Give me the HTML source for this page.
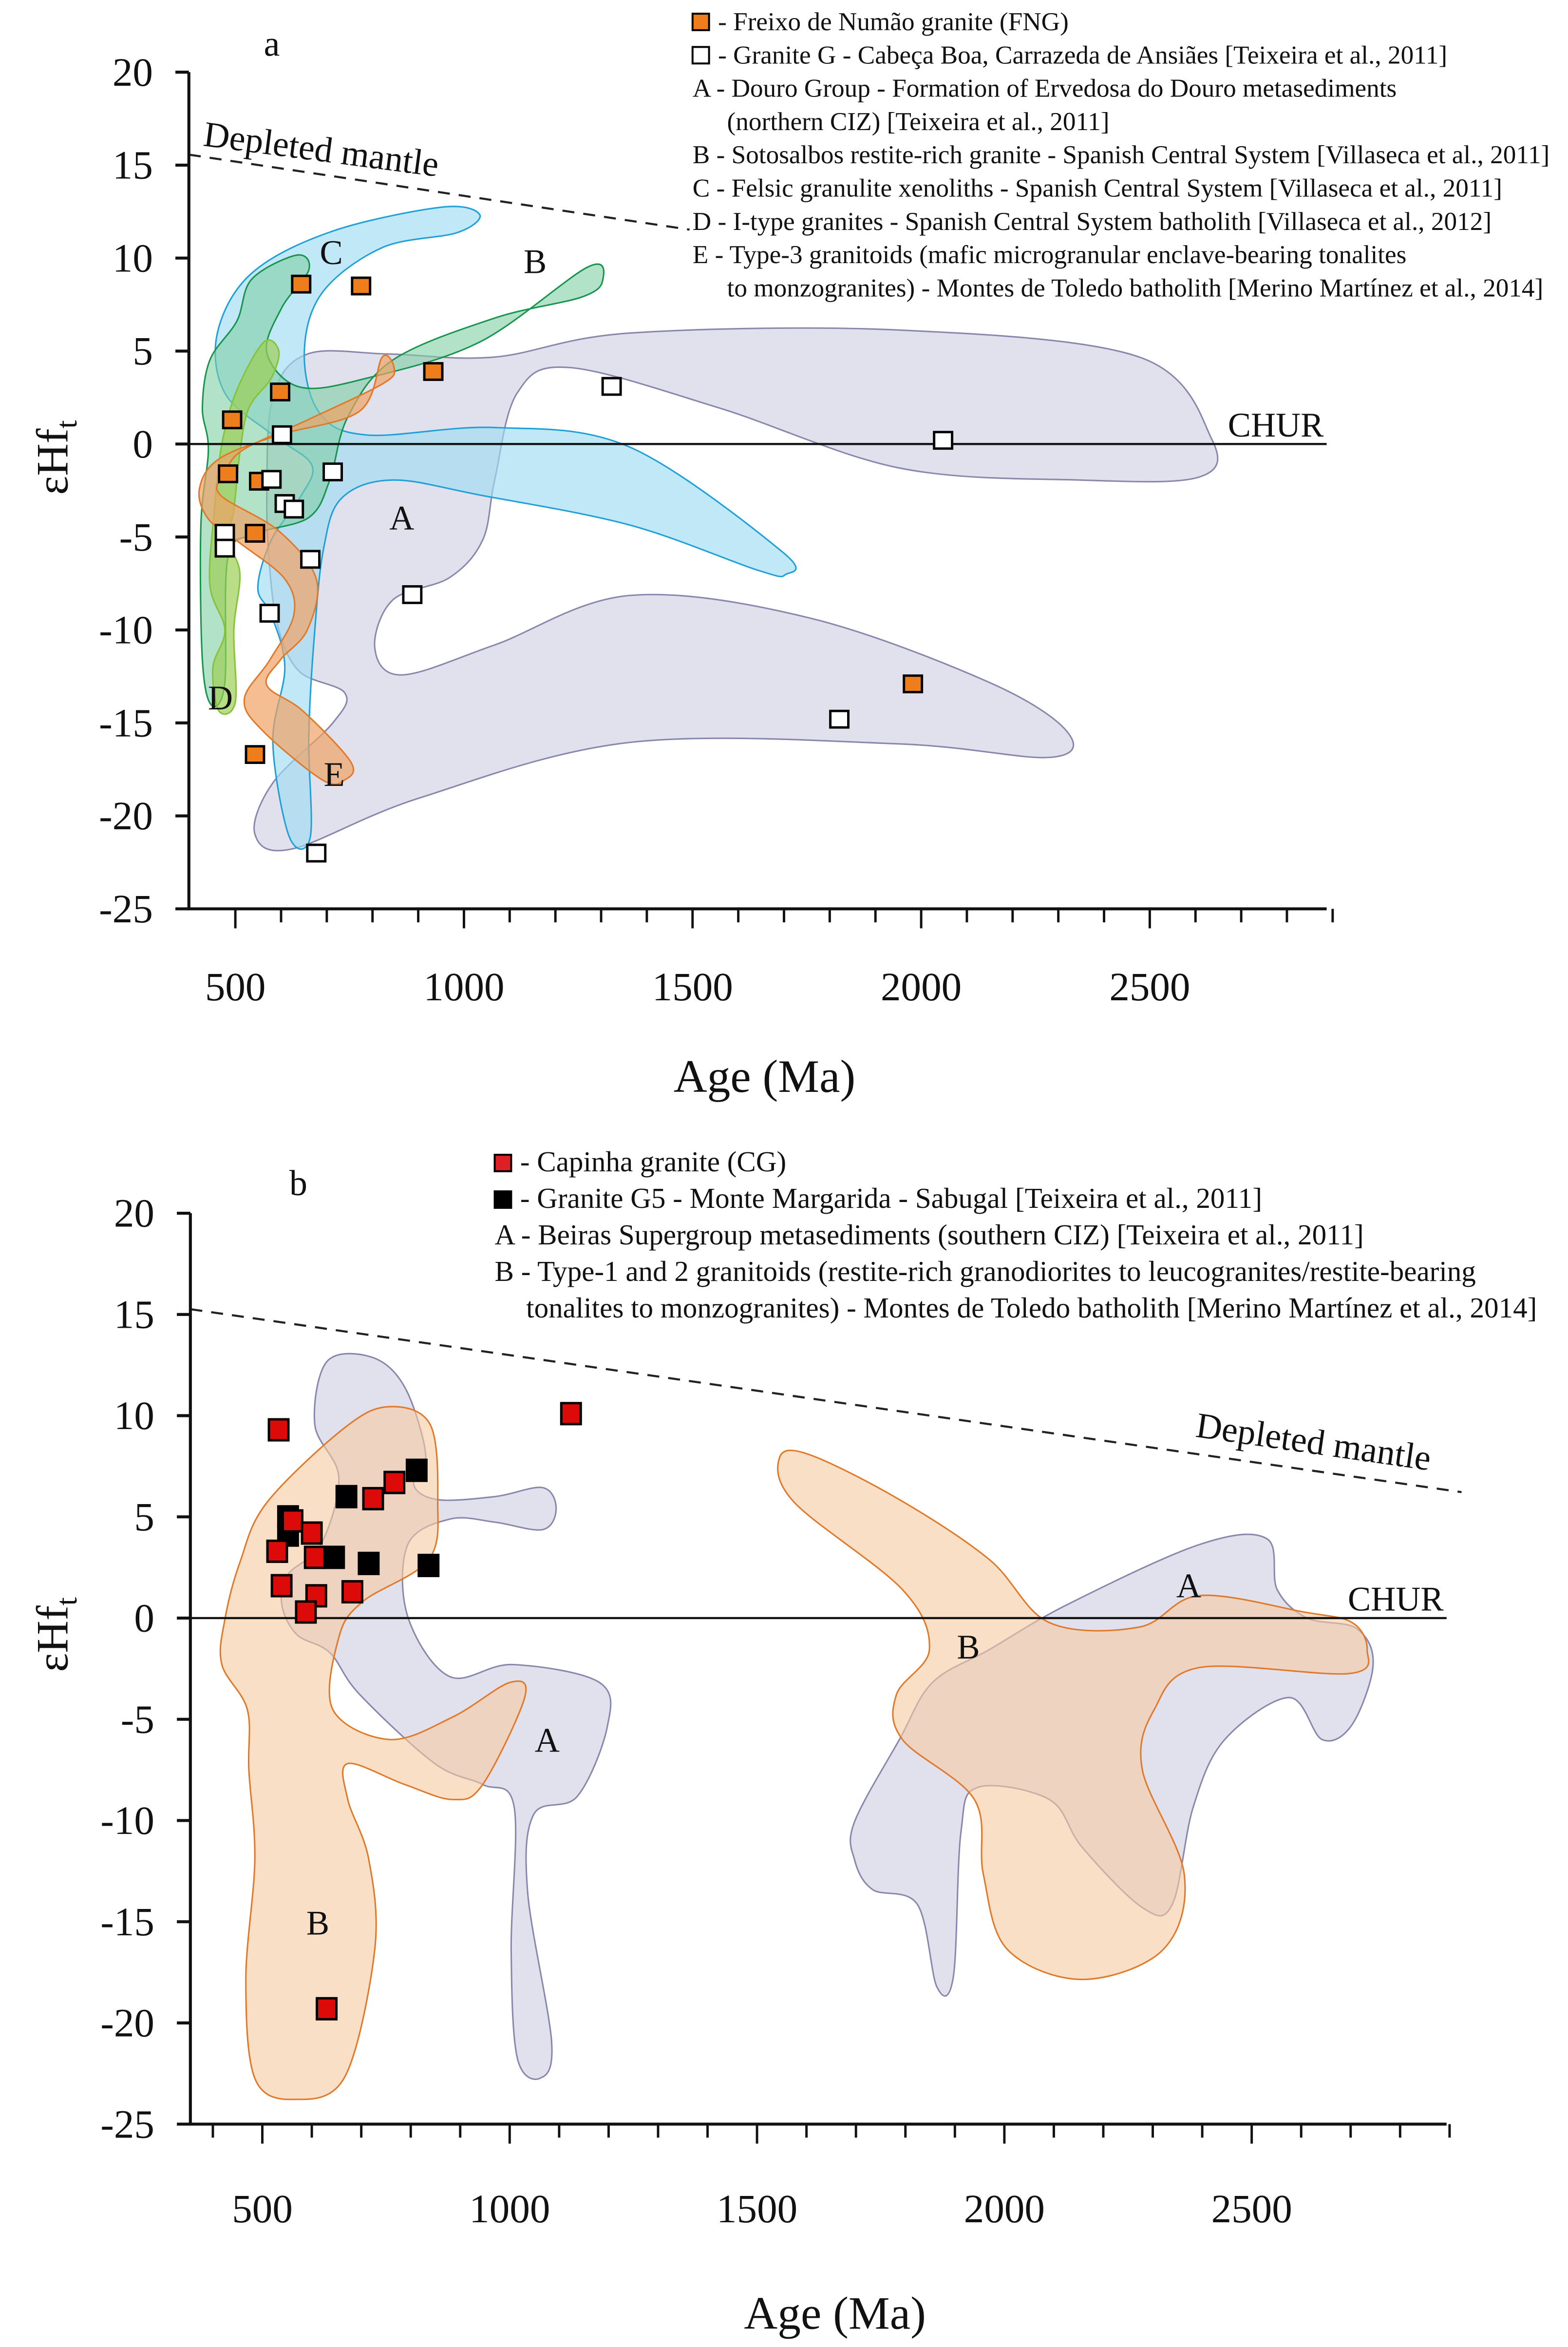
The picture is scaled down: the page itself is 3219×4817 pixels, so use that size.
<!DOCTYPE html>
<html><head><meta charset="utf-8"><style>
html,body{margin:0;padding:0;background:#fff}
svg{display:block}
text{font-family:"Liberation Serif",serif;fill:#111}
</style></head><body>
<svg id="fig" width="3219" height="4817" viewBox="0 0 1046 1565" xmlns="http://www.w3.org/2000/svg">
<g id="pa"></g>
<g id="pb"></g>
</svg>
<script>
// ===== data =====
const xTicksLabels = [500, 1000, 1500, 2000, 2500];
const yTicksLabels = [20, 15, 10, 5, 0, -5, -10, -15, -20, -25];
// panel a
const fngAge = [644, 775, 598, 493, 933, 484, 552, 543, 543, 1982];
const fngHf  = [8.6, 8.5, 2.8, 1.3, 3.9, -1.6, -2.0, -4.8, -16.7, -12.9];
const granGAge = [602, 579, 713, 608, 628, 477, 477, 664, 575, 887, 1323, 2048, 1821, 677];
const granGHf  = [0.5, -1.9, -1.5, -3.2, -3.5, -4.8, -5.6, -6.2, -9.1, -8.1, 3.1, 0.2, -14.8, -22.0];
// panel b
const cgAge = [533, 1124, 561, 600, 530, 606, 724, 767, 539, 609, 588, 682, 630];
const cgHf  = [9.3, 10.1, 4.8, 4.2, 3.3, 3.0, 5.9, 6.7, 1.6, 1.1, 0.3, 1.3, -19.3];
const g5Age = [812, 670, 552, 552, 645, 715, 836];
const g5Hf  = [7.3, 6.0, 5.0, 4.1, 3.0, 2.7, 2.6];

const NS = "http://www.w3.org/2000/svg";
function mk(parent, tag, attrs, txt){
  const e = document.createElementNS(NS, tag);
  for (const k in attrs) e.setAttribute(k, attrs[k]);
  if (txt !== undefined) e.textContent = txt;
  parent.appendChild(e); return e;
}
function smooth(pts){
  const n = pts.length; let d = "M" + pts[0][0] + "," + pts[0][1];
  for (let i = 0; i < n; i++){
    const p0 = pts[(i-1+n)%n], p1 = pts[i], p2 = pts[(i+1)%n], p3 = pts[(i+2)%n];
    const c1 = [p1[0]+(p2[0]-p0[0])/6, p1[1]+(p2[1]-p0[1])/6];
    const c2 = [p2[0]-(p3[0]-p1[0])/6, p2[1]-(p3[1]-p1[1])/6];
    d += "C"+c1[0].toFixed(1)+","+c1[1].toFixed(1)+" "+c2[0].toFixed(1)+","+c2[1].toFixed(1)+" "+p2[0]+","+p2[1];
  }
  return d + "Z";
}

function panel(g, cfg){
  const X = v => cfg.x0 + (v - 500) * cfg.kx;
  const Y = e => cfg.y0 - e * cfg.ky;
  cfg.regions.forEach(r => {
    const p = mk(g, "path", {d: smooth(r.pts), fill: r.fill, "fill-opacity": r.op, stroke: r.stroke, "stroke-width": 1});
    
    
  });
  const dm = mk(g, "line", {x1: cfg.dm[0], y1: cfg.dm[1], x2: cfg.dm[2], y2: cfg.dm[3], stroke: "#222", "stroke-width": 1.4, "stroke-dasharray": "8,6"});
  
  
  const dmt = mk(g, "text", {x: cfg.dmt[0], y: cfg.dmt[1], "font-size": 24, transform: "rotate(" + cfg.dmt[2] + " " + cfg.dmt[0] + " " + cfg.dmt[1] + ")"}, "Depleted mantle");
  
  
  const ch = mk(g, "line", {x1: cfg.ax, y1: Y(0), x2: cfg.axEnd, y2: Y(0), stroke: "#111", "stroke-width": 1.4});
  
  
  const cht = mk(g, "text", {x: cfg.axEnd - 2, y: Y(0) - 5, "font-size": 23, "text-anchor": "end"}, "CHUR");
  
  
  cfg.letters.forEach(l => {
    const t = mk(g, "text", {x: l[1], y: l[2], "font-size": 23, "text-anchor": "middle"}, l[0]);
    
    
  });
  const yax = mk(g, "line", {x1: cfg.ax, y1: Y(20), x2: cfg.ax, y2: Y(-25), stroke: "#111", "stroke-width": 2});
  
  
  const xax = mk(g, "line", {x1: cfg.ax - 1, y1: Y(-25), x2: cfg.axEnd, y2: Y(-25), stroke: "#111", "stroke-width": 2});
  
  
  yTicksLabels.forEach(v => {
    const t = mk(g, "line", {x1: cfg.ax - 9, y1: Y(v), x2: cfg.ax, y2: Y(v), stroke: "#111", "stroke-width": 2});
    
    
    const l = mk(g, "text", {x: cfg.ax - 24, y: Y(v) + 9, "font-size": 27, "text-anchor": "end"}, String(v));
    
    
  });
  for (let v = 400; v <= 2900; v += 100){
    if (X(v) < cfg.ax + 2) continue;
    const major = v % 500 === 0;
    const t = mk(g, "line", {x1: X(v), y1: Y(-25), x2: X(v), y2: Y(-25) + (major ? 13 : 9), stroke: "#111", "stroke-width": 1.6});
    
    
  }
  xTicksLabels.forEach(v => {
    const l = mk(g, "text", {x: X(v), y: cfg.xlY, "font-size": 27, "text-anchor": "middle"}, String(v));
    
    
  });
  const xt = mk(g, "text", {x: cfg.xtitle[0], y: cfg.xtitle[1], "font-size": 31, "text-anchor": "middle"}, "Age (Ma)");
  
  
  const yt = mk(g, "text", {x: 0, y: 0, "font-size": 30, "text-anchor": "middle", transform: "translate(" + cfg.ytitle[0] + "," + cfg.ytitle[1] + ") rotate(-90)"});
  
  
  mk(yt, "tspan", {}, "εHf");
  mk(yt, "tspan", {"font-size": 20, dy: 6}, "t");
  const pl = mk(g, "text", {x: cfg.plabel[0], y: cfg.plabel[1], "font-size": 24}, cfg.plabel[2]);
  
  
  cfg.series.forEach(s => {
    s.ages.forEach((a, i) => {
      const r = mk(g, "rect", {x: X(a) - s.w/2, y: Y(s.hf[i]) - s.h/2, width: s.w, height: s.h, fill: s.fill, stroke: "#000", "stroke-width": 1.6});
      
      
    });
  });
  cfg.legend.forEach((L, i) => {
    const y = cfg.legY + i * cfg.legDy;
    if (L.box){
      const b = mk(g, "rect", {x: cfg.legX, y: y - 11, width: 11, height: 11, fill: L.box, stroke: "#000", "stroke-width": 1.3});
      
      
    }
    const t = mk(g, "text", {x: cfg.legX + (L.indent ? cfg.legIndent : (L.box ? 17 : 0)), y: y, "font-size": cfg.legFs}, L.text);
    
    
  });
}

const lav = "#dcdbea", lavS = "#8a87ad";
panel(document.getElementById("pa"), {
  x0: 157, kx: 0.305, y0: 296, ky: 12.4, ax: 126, axEnd: 885, xlY: 667, xtitle: [510, 728], ytitle: [45, 305], plabel: [176, 37, "a"],
  dm: [126, 103, 460, 153], dmt: [135, 97, 7.5],
  regions: [
    {name: "region-a-douro", fill: lav, op: 0.85, stroke: lavS, pts: [[178,330],[182,265],[205,236],[260,236],[330,238],[420,222],[600,220],[760,238],[808,292],[800,318],[720,320],[600,312],[480,272],[380,245],[345,262],[330,320],[322,360],[300,385],[262,400],[250,432],[268,450],[330,430],[420,397],[540,412],[660,455],[712,488],[700,505],[600,496],[420,495],[280,532],[195,566],[170,556],[182,522],[222,482],[230,462],[200,448],[186,420],[180,380]]},
    {name: "region-c-felsic-granulite", fill: "#9fdcf3", op: 0.65, stroke: "#20a0d8", pts: [[320,143],[305,155],[255,165],[215,195],[203,235],[213,275],[245,290],[330,285],[420,298],[522,368],[524,383],[505,380],[420,350],[320,330],[262,320],[228,332],[216,365],[210,420],[206,490],[207,558],[193,558],[182,495],[190,445],[181,410],[172,392],[181,360],[200,332],[208,310],[182,290],[150,262],[145,222],[168,182],[222,154],[295,138]]},
    {name: "region-b-sotosalbos", fill: "#7fcfa3", op: 0.6, stroke: "#17944d", pts: [[135,272],[140,240],[158,214],[168,186],[198,170],[206,180],[188,205],[178,235],[200,258],[245,252],[320,228],[392,178],[402,187],[388,198],[330,212],[262,240],[232,278],[220,320],[206,345],[170,356],[152,372],[150,455],[141,470],[135,440],[134,350],[139,300]]},
    {name: "region-d-i-type", fill: "#9ccf55", op: 0.7, stroke: "#86c33a", pts: [[146,474],[142,445],[150,420],[140,390],[143,340],[148,296],[158,260],[176,228],[186,234],[181,252],[166,272],[160,302],[156,340],[152,360],[160,382],[156,420],[157,468]]},
    {name: "region-e-type3", fill: "#f0a264", op: 0.7, stroke: "#e07a2a", pts: [[133,326],[146,306],[186,290],[240,274],[255,238],[263,246],[255,256],[205,280],[162,300],[150,316],[147,330],[186,354],[211,386],[205,420],[187,440],[178,457],[202,474],[234,508],[230,520],[215,520],[175,487],[163,466],[180,440],[196,410],[190,386],[160,362],[139,346]]}
  ],
  letters: [["C",221,176],["B",357,182],["A",268,353],["D",147,473],["E",223,524]],
  series: [
    {name: "fng-point", ages: fngAge, hf: fngHf, fill: "#ee7e1c", w: 12, h: 11},
    {name: "granite-g-point", ages: granGAge, hf: granGHf, fill: "#ffffff", w: 12, h: 11}
  ],
  legX: 462, legY: 20, legDy: 22.2, legFs: 17.3, legIndent: 23,
  legend: [
    {box: "#ee7e1c", text: "- Freixo de Numão granite (FNG)"},
    {box: "#ffffff", text: "- Granite G - Cabeça Boa, Carrazeda de Ansiães [Teixeira et al., 2011]"},
    {text: "A - Douro Group - Formation of Ervedosa do Douro metasediments"},
    {indent: true, text: "(northern CIZ) [Teixeira et al., 2011]"},
    {text: "B - Sotosalbos restite-rich granite - Spanish Central System [Villaseca et al., 2011]"},
    {text: "C - Felsic granulite xenoliths - Spanish Central System [Villaseca et al., 2011]"},
    {text: "D - I-type granites - Spanish Central System batholith [Villaseca et al., 2012]"},
    {text: "E - Type-3 granitoids (mafic microgranular enclave-bearing tonalites"},
    {indent: true, text: "to monzogranites) - Montes de Toledo batholith [Merino Martínez et al., 2014]"}
  ]
});

panel(document.getElementById("pb"), {
  x0: 175, kx: 0.33, y0: 1079, ky: 13.5, ax: 127, axEnd: 965, xlY: 1482, xtitle: [557, 1553], ytitle: [45, 1090], plabel: [193, 797, "b"],
  dm: [127, 873, 975, 995], dmt: [797, 958, 8.2],
  regions: [
    {name: "region-a-beiras-left", fill: lav, op: 0.85, stroke: lavS, pts: [[218,908],[248,905],[270,925],[284,970],[276,990],[292,1000],[330,998],[362,992],[371,1006],[362,1020],[330,1015],[300,1013],[272,1030],[272,1078],[300,1118],[342,1110],[400,1122],[405,1152],[385,1198],[356,1210],[352,1262],[368,1362],[360,1386],[345,1372],[341,1300],[343,1205],[322,1190],[290,1176],[240,1130],[220,1102],[198,1090],[188,1070],[192,1050],[214,1030],[226,985],[210,950]]},
    {name: "region-a-beiras-right", fill: lav, op: 0.85, stroke: lavS, pts: [[570,1215],[600,1160],[622,1122],[660,1100],[712,1070],[800,1030],[845,1026],[852,1060],[872,1079],[905,1086],[916,1110],[902,1150],[882,1160],[860,1132],[817,1160],[796,1205],[782,1270],[762,1272],[722,1232],[700,1200],[652,1192],[641,1222],[636,1318],[625,1325],[612,1270],[582,1260],[570,1240]]},
    {name: "region-b-type1-2-left", fill: "#f7c9a2", op: 0.6, stroke: "#e07a2a", pts: [[150,1080],[160,1042],[178,1002],[230,952],[260,938],[287,950],[292,1000],[286,1040],[242,1068],[226,1092],[222,1140],[260,1160],[302,1145],[340,1122],[350,1132],[322,1190],[302,1200],[270,1190],[232,1176],[232,1200],[246,1240],[250,1300],[230,1385],[196,1400],[170,1386],[164,1320],[170,1240],[166,1180],[165,1140],[148,1110]]},
    {name: "region-b-type1-2-right", fill: "#f7c9a2", op: 0.6, stroke: "#e07a2a", pts: [[520,972],[540,970],[600,1000],[660,1040],[700,1082],[760,1085],[800,1064],[870,1075],[902,1082],[912,1100],[900,1116],[800,1112],[770,1140],[762,1180],[790,1250],[776,1300],[722,1320],[672,1300],[656,1250],[650,1200],[602,1160],[598,1130],[620,1100],[602,1060],[530,1002]]}
  ],
  letters: [["A",365,1168],["B",212,1290],["B",646,1106],["A",793,1065]],
  series: [
    {name: "granite-g5-point", ages: g5Age, hf: g5Hf, fill: "#000000", w: 13, h: 14},
    {name: "capinha-granite-point", ages: cgAge, hf: cgHf, fill: "#dd0a0a", w: 13, h: 14}
  ],
  legX: 330, legY: 781, legDy: 24.4, legFs: 19.2, legIndent: 21,
  legend: [
    {box: "#dd1f26", text: "- Capinha granite (CG)"},
    {box: "#000000", text: "- Granite G5 - Monte Margarida - Sabugal [Teixeira et al., 2011]"},
    {text: "A - Beiras Supergroup metasediments (southern CIZ) [Teixeira et al., 2011]"},
    {text: "B - Type-1 and 2 granitoids (restite-rich granodiorites to leucogranites/restite-bearing"},
    {indent: true, text: "tonalites to monzogranites) - Montes de Toledo batholith [Merino Martínez et al., 2014]"}
  ]
});
</script>
</body></html>
